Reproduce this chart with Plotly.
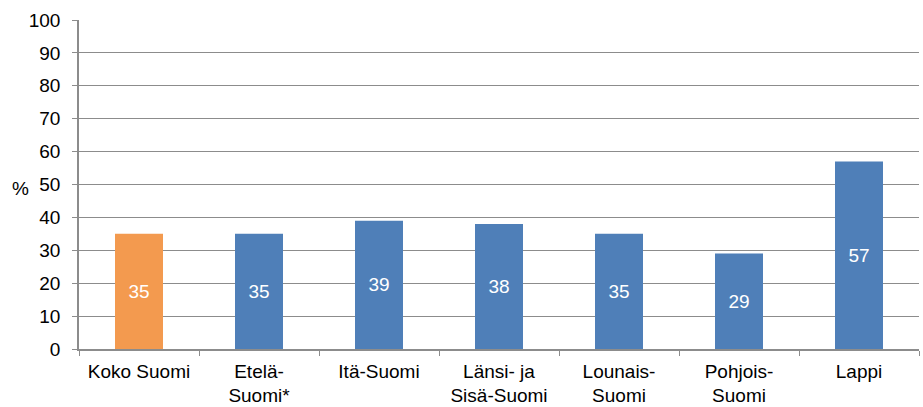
import plotly.graph_objects as go

categories = ["Koko Suomi", "Etelä-<br>Suomi*", "Itä-Suomi", "Länsi- ja<br>Sisä-Suomi",
              "Lounais-<br>Suomi", "Pohjois-<br>Suomi", "Lappi"]
values = [35, 35, 39, 38, 35, 29, 57]
colors = ["#F39A4F", "#4F7FB8", "#4F7FB8", "#4F7FB8", "#4F7FB8", "#4F7FB8", "#4F7FB8"]
y_ticks = [0, 10, 20, 30, 40, 50, 60, 70, 80, 90, 100]

FONT = "Liberation Sans, Arial, sans-serif"

fig = go.Figure(go.Bar(
    x=categories, y=values,
    marker=dict(color=colors, line=dict(width=0)),
    width=0.4,
    text=[str(v) for v in values],
    textposition="inside", insidetextanchor="middle",
    textfont=dict(color="white", size=19, family=FONT),
))

axis_color = "#8C8C8C"
L, R, T, B = 79, 4, 20, 58
fig.update_layout(
    width=923, height=407,
    margin=dict(l=L, r=R, t=T, b=B, autoexpand=False),
    paper_bgcolor="white", plot_bgcolor="white",
    font=dict(family=FONT, size=19, color="black"),
    showlegend=False,
    xaxis=dict(
        showline=True, linecolor=axis_color, linewidth=1.5,
        ticks="outside", tickson="boundaries", ticklen=5, tickcolor=axis_color,
        tickfont=dict(size=19), showgrid=False, automargin=False,
        ticklabelstandoff=4,
    ),
    yaxis=dict(
        range=[0, 100], tickvals=y_ticks,
        showline=True, linecolor=axis_color, linewidth=1.5,
        ticks="outside", ticklen=5, tickcolor=axis_color,
        showgrid=True, gridcolor=axis_color, gridwidth=1,
        tickfont=dict(size=19), ticklabelstandoff=8,
        zeroline=False, automargin=False,
    ),
)
pw = 923 - L - R
ph = 407 - T - B
fig.add_annotation(text="%", x=(20 - L) / pw, y=(349 - 188) / ph, xref="paper", yref="paper",
                   xanchor="center", yanchor="middle",
                   showarrow=False, font=dict(size=19))

fig.write_html("out.html", config={"displayModeBar": False},
               post_script="document.body.style.margin='0';document.body.style.overflow='hidden';")
